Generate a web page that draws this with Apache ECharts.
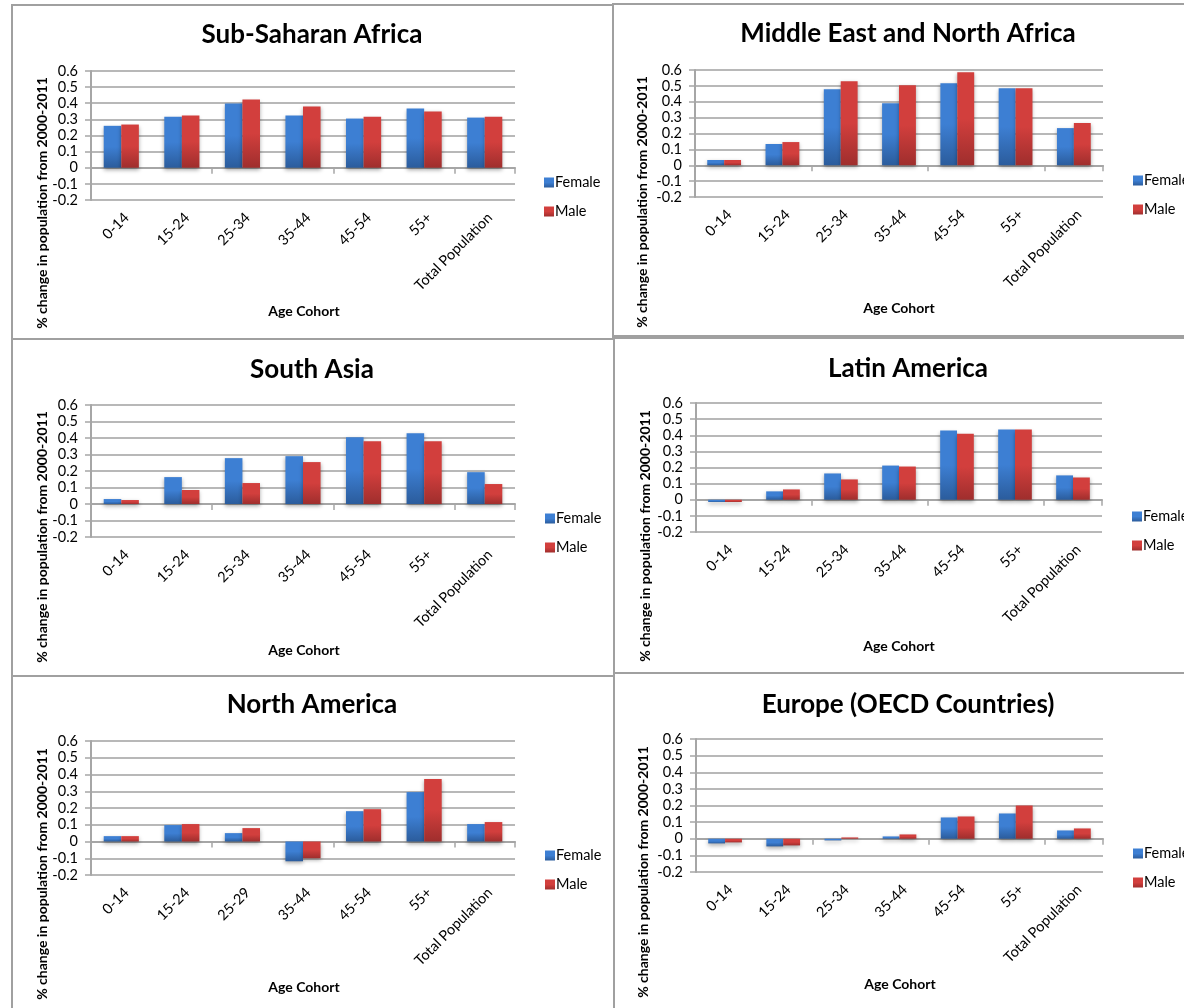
<!DOCTYPE html>
<html>
<head>
<meta charset="utf-8">
<title>Population change by age cohort, 2000-2011</title>
<script src="https://cdn.jsdelivr.net/npm/echarts@6/dist/echarts.min.js"></script>
<style>
  html, body { margin: 0; padding: 0; background: #ffffff; }
  #chart { width: 1184px; height: 1008px; }
</style>
</head>
<body>
<div id="chart"></div>
<script>
// Age cohorts (North America reports the 25-29 cohort)
const categories = ['0-14', '15-24', '25-34', '35-44', '45-54', '55+', 'Total Population'];
const categoriesNorthAmerica = ['0-14', '15-24', '25-29', '35-44', '45-54', '55+', 'Total Population'];

// Share change in population 2000-2011, by region and sex
const subSaharanFemale = [0.260, 0.317, 0.398, 0.324, 0.305, 0.367, 0.311];
const subSaharanMale   = [0.268, 0.324, 0.423, 0.380, 0.317, 0.349, 0.317];

const menaFemale = [0.033, 0.134, 0.479, 0.391, 0.517, 0.485, 0.234];
const menaMale   = [0.033, 0.146, 0.529, 0.504, 0.586, 0.485, 0.266];

const southAsiaFemale = [0.030, 0.163, 0.278, 0.290, 0.404, 0.429, 0.193];
const southAsiaMale   = [0.024, 0.085, 0.127, 0.254, 0.380, 0.380, 0.121];

const latinAmericaFemale = [-0.014, 0.052, 0.163, 0.212, 0.429, 0.435, 0.151];
const latinAmericaMale   = [-0.014, 0.064, 0.126, 0.206, 0.410, 0.435, 0.138];

const northAmericaFemale = [0.032, 0.098, 0.050, -0.118, 0.181, 0.295, 0.104];
const northAmericaMale   = [0.032, 0.104, 0.080, -0.100, 0.193, 0.373, 0.116];

const europeFemale = [-0.028, -0.046, -0.010, 0.014, 0.128, 0.152, 0.050];
const europeMale   = [-0.022, -0.040, 0.008, 0.026, 0.134, 0.200, 0.062];

const seriesNames = ['Female', 'Male'];
const yAxisTitle = '% change in population from 2000-2011';
const xAxisTitle = 'Age Cohort';

const panels = [
  { title: 'Sub-Saharan Africa', cats: categories, female: subSaharanFemale, male: subSaharanMale },
  { title: 'Middle East and North Africa', cats: categories, female: menaFemale, male: menaMale },
  { title: 'South Asia', cats: categories, female: southAsiaFemale, male: southAsiaMale },
  { title: 'Latin America', cats: categories, female: latinAmericaFemale, male: latinAmericaMale },
  { title: 'North America', cats: categoriesNorthAmerica, female: northAmericaFemale, male: northAmericaMale },
  { title: 'Europe (OECD Countries)', cats: categories, female: europeFemale, male: europeMale }
];

// Page layout of each small chart: frame, plot area, title, axis titles, legend
const layout = [
  { frame: [12, 5, 601, 334],  plot: [91, 71, 424, 129],  titleXY: [312, 35],  yNameXY: [42, 203],  xNameXY: [304, 311], legendXY: [539, 182] },
  { frame: [613, 4, 600, 332], plot: [695, 70, 408, 127], titleXY: [908, 34],  yNameXY: [642, 202], xNameXY: [899, 308], legendXY: [1128, 180] },
  { frame: [12, 339, 602, 337], plot: [91, 405, 424, 132], titleXY: [312, 370], yNameXY: [42, 537],  xNameXY: [304, 650], legendXY: [540, 518] },
  { frame: [614, 338, 600, 335], plot: [696, 403, 406, 129], titleXY: [908, 369], yNameXY: [645, 536], xNameXY: [899, 646], legendXY: [1127, 516] },
  { frame: [12, 676, 602, 340], plot: [91, 741, 424, 134], titleXY: [312, 705], yNameXY: [42, 874],  xNameXY: [304, 987], legendXY: [540, 855] },
  { frame: [614, 673, 600, 340], plot: [696, 739, 407, 133], titleXY: [908, 705], yNameXY: [643, 872], xNameXY: [900, 984], legendXY: [1128, 853] }
];

const FONT = 'Lato, "Open Sans", "DejaVu Sans", sans-serif';
const GRID_GRAY = '#b8b8b8';
const AXIS_GRAY = '#a6a6a6';

function gradient(top, bottom) {
  return new echarts.graphic.LinearGradient(0, 0, 0, 1, [
    { offset: 0, color: top },
    { offset: 0.5, color: top },
    { offset: 1, color: bottom }
  ]);
}
const femaleFill = gradient('#3d7fd3', '#2b5c9c');
const maleFill = gradient('#d23f3d', '#9f2e2d');

const option = {
  backgroundColor: '#ffffff',
  animation: false,
  textStyle: { fontFamily: FONT },
  color: ['#3a78c8', '#c93a38'],
  title: [], legend: [], grid: [], xAxis: [], yAxis: [], series: [], graphic: []
};

panels.forEach((p, i) => {
  const L = layout[i];
  const [gx, gy, gw, gh] = L.plot;

  option.graphic.push({
    type: 'rect', silent: true, z: 0,
    shape: { x: L.frame[0], y: L.frame[1], width: L.frame[2], height: L.frame[3] },
    style: { fill: 'none', stroke: '#a0a0a0', lineWidth: 2 }
  });

  option.graphic.push({
    type: 'text', silent: true, x: L.titleXY[0], y: L.titleXY[1],
    style: { text: p.title, font: 'bold 26px ' + FONT, fill: '#000000', align: 'center', verticalAlign: 'middle' }
  });

  option.graphic.push({
    type: 'text', silent: true, x: L.yNameXY[0], y: L.yNameXY[1], rotation: Math.PI / 2,
    style: { text: yAxisTitle, font: 'bold 14px ' + FONT, fill: '#000000', align: 'center', verticalAlign: 'middle' }
  });
  option.graphic.push({
    type: 'text', silent: true, x: L.xNameXY[0], y: L.xNameXY[1],
    style: { text: xAxisTitle, font: 'bold 14px ' + FONT, fill: '#000000', align: 'center', verticalAlign: 'middle' }
  });

  option.legend.push({
    data: seriesNames, orient: 'vertical', left: L.legendXY[0], top: L.legendXY[1] - 12,
    itemWidth: 10, itemHeight: 10, itemGap: 14, icon: 'rect', selectedMode: false,
    textStyle: { fontFamily: FONT, fontSize: 14.5, color: '#000000', padding: [0, 0, 0, -4] }
  });

  option.grid.push({ left: gx, top: gy, width: gw, height: gh, containLabel: false });

  // category labels along the bottom of the plot
  option.xAxis.push({
    type: 'category', gridIndex: i, data: p.cats, position: 'bottom',
    axisLine: { show: false, onZero: false }, axisTick: { show: false },
    axisLabel: { rotate: 45, margin: 10, verticalAlign: 'top', fontFamily: FONT, fontSize: 14.5, color: '#000000', interval: 0 }
  });
  // horizontal axis line drawn through zero, with ticks between cohorts
  option.xAxis.push({
    type: 'category', gridIndex: i, data: p.cats, position: 'top',
    axisLine: { show: true, onZero: true, lineStyle: { color: AXIS_GRAY, width: 2 } },
    axisTick: { show: true, inside: true, length: 6, lineStyle: { color: AXIS_GRAY, width: 1.5 } },
    axisLabel: { show: false }, splitLine: { show: false }
  });

  option.yAxis.push({
    type: 'value', gridIndex: i, min: -0.2, max: 0.6, interval: 0.1,
    axisLine: { show: true, lineStyle: { color: AXIS_GRAY, width: 2 } },
    axisTick: { show: true, length: 6, lineStyle: { color: AXIS_GRAY, width: 1.5 } },
    axisLabel: { margin: 13, fontFamily: FONT, fontSize: 14.5, color: '#000000' },
    splitLine: { show: true, lineStyle: { color: GRID_GRAY, width: 2 } }
  });

  const barStyle = (fill) => ({
    color: fill, shadowColor: 'rgba(0,0,0,0.35)', shadowBlur: 4, shadowOffsetY: 2
  });
  option.series.push({
    name: seriesNames[0], type: 'bar', xAxisIndex: i * 2, yAxisIndex: i, data: p.female,
    barGap: '0%', barCategoryGap: '42%', itemStyle: barStyle(femaleFill), z: 3
  });
  option.series.push({
    name: seriesNames[1], type: 'bar', xAxisIndex: i * 2, yAxisIndex: i, data: p.male,
    barGap: '0%', barCategoryGap: '42%', itemStyle: barStyle(maleFill), z: 3
  });
});

const chart = echarts.init(document.getElementById('chart'), null, { renderer: 'canvas' });
chart.setOption(option);
</script>
</body>
</html>
